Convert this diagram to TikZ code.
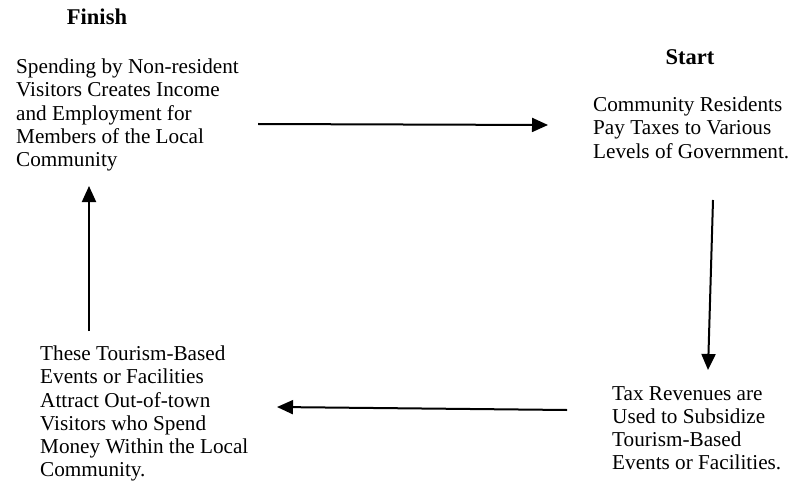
\documentclass[tikz,border=0pt]{standalone}
\usepackage{fontspec}
\setmainfont{Liberation Serif}
\usetikzlibrary{arrows.meta}
\tikzset{
  flow/.style={draw=black, line width=2pt, -{Triangle[length=16pt,width=14pt]}},
  stage/.style={anchor=north west, inner sep=0pt, align=left, font=\fontsize{21.2}{23.3}\selectfont},
  head/.style={anchor=base, inner sep=0pt, font=\bfseries\fontsize{22.5}{26}\selectfont},
}
\begin{document}
\begin{tikzpicture}[x=1pt,y=-1pt]
  \useasboundingbox (0,0) rectangle (789,489);
  \node[head] (finishlab) at (97,25) {Finish};
  \node[head] (startlab) at (690,65) {Start};
  \node[stage] (spend) at (16,58.5) {Spending by Non-resident\\Visitors Creates Income\\and Employment for\\Members of the Local\\Community};
  \node[stage] (taxes) at (593,96.5) {Community Residents\\Pay Taxes to Various\\Levels of Government.};
  \node[stage] (revenue) at (612,386) {Tax Revenues are\\Used to Subsidize\\Tourism-Based\\Events or Facilities.};
  \node[stage] (attract) at (40,345.5) {These Tourism-Based\\Events or Facilities\\Attract Out-of-town\\Visitors who Spend\\Money Within the Local\\Community.};
  % arrow ends
  \coordinate (a1) at (258,124);
  \coordinate (a2) at (548,125);
  \coordinate (b1) at (713,200);
  \coordinate (b2) at (708,370);
  \coordinate (c1) at (567,410);
  \coordinate (c2) at (277,407);
  \coordinate (d1) at (89,331);
  \coordinate (d2) at (89,186);
  \draw[flow] (a1) -- (a2);
  \draw[flow] (b1) -- (b2);
  \draw[flow] (c1) -- (c2);
  \draw[flow] (d1) -- (d2);
\end{tikzpicture}
\end{document}
